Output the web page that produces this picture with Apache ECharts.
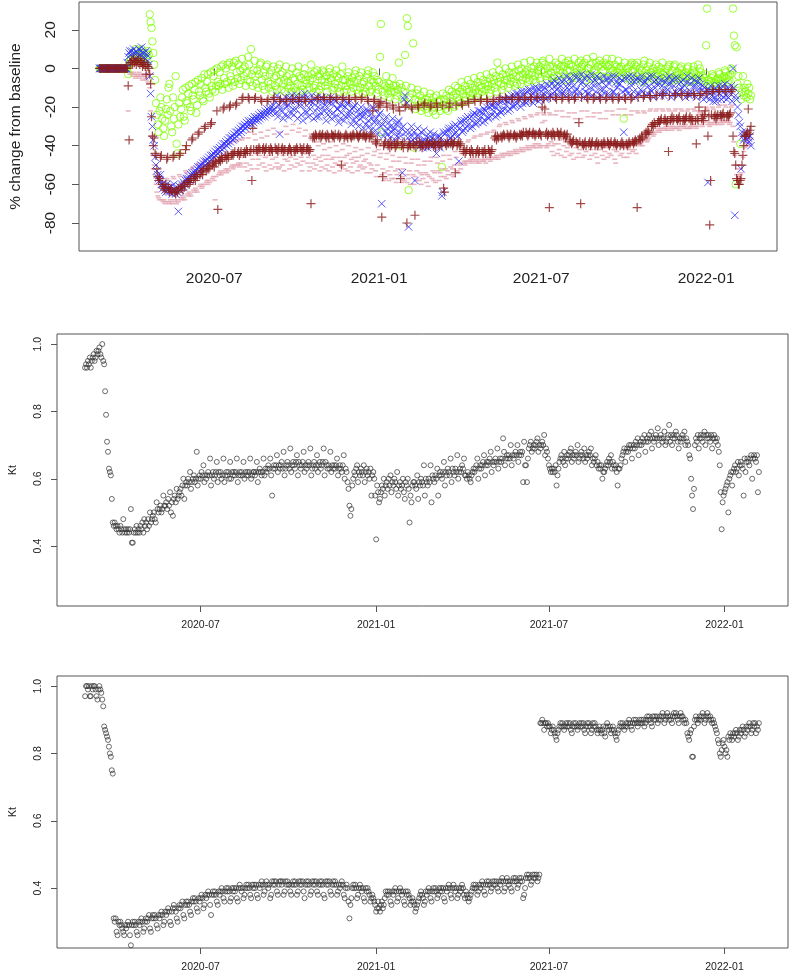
<!DOCTYPE html>
<html>
<head>
<meta charset="utf-8">
<title>Mobility change and Kt</title>
<script src="https://cdn.jsdelivr.net/npm/echarts@6/dist/echarts.min.js"></script>
<style>
html, body { margin: 0; padding: 0; background: #fff; }
#main { width: 789px; height: 974px; }
</style>
</head>
<body>
<div id="main"></div>
<script>
var DAY = 86400000;

// top panel: % change from baseline, one value per day from 2020-02-24, one row per week (Mon..Sun)
var mobStart = Date.UTC(2020, 1, 24);
var greenVals = [
  0,0,0,0,0,0,0, 0,0,0,0,0,0,0, 0,0,0,0,0,0,0, 0,0,0,0,0,0,0,
  0,0,0,0,-3,2,4, 5,3,8,6,4,10,7, 6,9,4,7,5,10,8, 3,6,2,8,5,9,7,
  28,24,21,14,8,2,-6, -18,-24,-29,-33,-22,-15,-20, -26,-31,-35,-27,-21,-16,-24, -10,-8,-22,-30,-33,-15,-26,
  -20,-4,-39,-44,-29,-18,-25, -21,-15,-11,-25,-27,-10,-17, -18,-13,-9,-20,-22,-8,-14, -16,-11,-7,-23,-19,-6,-12,
  -14,-8,-5,-16,-17,-3,-10, -12,-7,-3,-13,-15,-2,-9, -11,-4,-1,-12,-9,0,-7, -9,-2,-8,1,-11,2,-5,
  -8,0,-7,2,-10,3,-4, -6,1,-9,3,-7,4,-2, -5,2,-8,-1,-6,5,0, -4,1,-9,-2,-6,6,2,
  -7,10,-3,-9,-1,4,-4, -8,-1,-10,-3,2,3,-6, -9,-2,-11,-4,1,2,-7, -10,-3,-8,-1,-12,1,-5,
  -9,-4,-11,0,-7,2,-3, -11,-2,-8,-6,-12,1,-4, -7,-10,-3,-9,-12,0,-5, -10,-6,-12,-2,-8,1,-4,
  -12,-5,-9,-11,-3,0,-6, -8,-11,-4,-10,-6,2,-3, -5,-10,-2,-9,-12,-1,-4, -11,-3,-9,-6,-1,-2,-7,
  -9,-4,-12,-7,-2,0,-5, -6,-11,-3,-10,-8,-1,-4, -10,-5,-12,-3,-9,1,-6, -12,-6,-9,-11,-4,-2,-7,
  -8,-12,-5,-10,-7,-3,-1, -11,-6,-13,-4,-10,-2,-8, -13,-7,-10,-12,-5,-3,-1, -9,-12,-6,-11,-2,-7,-4,
  -9,-13,-6,-11,-7,6,23, -33,-12,-8,-14,-9,-4,-10, -13,-8,-15,-10,-12,-5,-9, -12,-16,-9,-14,-11,3,-8,
  -40,-10,-15,-12,-17,7,-9, 26,22,-63,-15,-19,-10,-13, 13,-41,-16,-21,-13,-11,-17, -19,-14,-22,-17,-20,-12,-16,
  -21,-16,-18,-23,-15,-13,-19, -18,-22,-15,-20,-24,-14,-17, -20,-17,-22,-16,-51,-13,-19, -16,-21,-14,-19,-22,-11,-15,
  -17,-12,-19,-14,-20,-9,-13, -15,-10,-17,-12,-18,-7,-11, -13,-17,-9,-15,-11,-6,-12, -14,-8,-16,-10,-13,-5,-9,
  -11,-15,-7,-13,-9,-4,-10, -12,-6,-14,-8,-11,-3,-7, -9,-13,-5,-11,-8,-2,-6, -10,-4,-12,3,-7,-1,-5,
  -8,-11,-3,-9,-6,0,-4, -6,-10,-2,-8,-5,1,-3, -7,-2,-9,-4,-8,2,-1, -4,-8,0,-6,-3,3,-2,
  -5,-1,-7,-3,-6,4,0, -2,-6,1,-4,-7,3,-1, -3,1,-5,-1,3,4,-2, 2,-4,-6,0,-3,5,1,
  -2,-5,1,-4,-7,3,0, -4,2,-6,-1,1,5,-2, 1,-3,3,-6,-1,4,2, -1,2,-5,1,-4,5,-2,
  -5,0,-3,3,-1,4,1, 2,-4,3,-2,-6,5,0, 0,-3,2,-5,3,6,-1, -2,3,-4,1,-6,4,2,
  -4,1,-1,3,-5,2,5, 1,-5,2,-2,0,5,-1, -3,2,-6,1,-2,4,0, -1,1,-4,-2,-26,3,-3,
  -5,0,-2,1,-6,2,3, -1,-4,2,-6,1,3,-2, -3,0,-5,-1,-7,2,4, -6,-1,-3,1,-4,3,-2,
  -2,-5,0,-6,-3,2,-1, -4,1,-6,-2,0,3,-3, -5,-2,-4,0,-7,1,2, -3,-6,-1,-5,1,2,-4,
  -6,-2,-5,-3,0,1,-1, -5,-3,-7,-2,-4,0,1, -4,-7,-3,-6,-1,1,-2, -5,-3,-6,2,-4,0,-2,
  -6,-4,-7,-5,-3,12,31, -8,-6,-9,-7,-5,-3,-4, -7,-9,-6,-8,-5,-2,-3, -6,-8,-5,-7,-4,-1,-2,
  -5,-7,-4,-6,-3,0,-1, 31,17,12,-60,11,-8,-4, -10,-39,-16,-12,-4,-14,-10, -12,-15,-8,-13,-10,-16,-14
];
var blueVals = [
  0,0,0,0,0,0,0, 0,0,0,0,0,0,0, 0,0,0,0,0,0,0, 0,0,0,0,0,0,0,
  0,0,0,3,6,8,9, 7,9,6,10,8,5,9, 8,6,10,7,9,11,8, 6,8,5,9,7,4,2,
  -4,-13,-25,-30,-37,-40,-46, -50,-53,-55,-57,-58,-55,-60, -60,-62,-61,-63,-64,-60,-62, -62,-64,-63,-61,-65,-63,-60,
  -63,-65,-62,-64,-74,-61,-63, -62,-60,-61,-59,-60,-58,-57, -58,-57,-56,-58,-55,-54,-56, -55,-54,-53,-55,-52,-51,-53,
  -51,-50,-52,-49,-51,-48,-50, -48,-47,-49,-46,-48,-45,-47, -45,-44,-46,-43,-45,-42,-44, -42,-41,-43,-40,-42,-39,-41,
  -39,-38,-40,-37,-39,-36,-38, -36,-35,-37,-34,-36,-33,-35, -33,-32,-34,-31,-33,-30,-32, -30,-29,-31,-28,-30,-27,-29,
  -28,-27,-29,-26,-28,-25,-27, -26,-25,-27,-24,-26,-23,-25, -24,-23,-25,-22,-24,-21,-23, -22,-21,-23,-20,-22,-19,-21,
  -17,-23,-14,-25,-19,-34,-21, -22,-16,-26,-18,-24,-15,-20, -19,-25,-15,-23,-17,-14,-21, -24,-17,-21,-14,-26,-16,-19,
  -16,-24,-19,-27,-15,-13,-22, -23,-15,-25,-18,-21,-17,-14, -18,-26,-16,-22,-25,-15,-20, -25,-17,-23,-15,-20,-16,-22,
  -19,-27,-17,-24,-22,-18,-15, -26,-18,-23,-16,-25,-17,-21, -21,-28,-19,-26,-23,-19,-16, -27,-20,-25,-18,-24,-18,-22,
  -24,-29,-21,-27,-20,-19,-25, -28,-22,-30,-24,-26,-20,-23, -25,-31,-23,-29,-21,-22,-27, -30,-24,-32,-26,-20,-21,-28,
  -32,-26,-34,-28,-24,-23,-30, -70,-29,-35,-27,-33,-25,-31, -34,-28,-36,-30,-33,-26,-32, -31,-37,-29,-35,-28,-27,-33,
  -35,-31,-54,-30,-16,-14,-33, -18,-36,-82,-33,-38,-30,-35, -37,-33,-58,-39,-35,-31,-38, -35,-40,-33,-38,-41,-32,-37,
  -39,-35,-41,-36,-38,-33,-40, -36,-40,-34,-39,-37,-44,-35, -39,-35,-41,-36,-66,-64,-33, -34,-39,-33,-38,-32,-31,-36,
  -36,-31,-35,-30,-34,-29,-33, -30,-35,-48,-31,-28,-27,-33, -32,-27,-31,-26,-30,-25,-29, -26,-31,-25,-30,-24,-23,-28,
  -29,-24,-28,-22,-27,-22,-25, -23,-28,-21,-27,-22,-20,-25, -26,-20,-25,-19,-24,-19,-22, -20,-25,-18,-24,-19,-17,-22,
  -23,-17,-22,-16,-21,-16,-19, -17,-22,-15,-21,-16,-14,-19, -20,-14,-19,-13,-18,-13,-16, -15,-20,-12,-18,-14,-12,-17,
  -18,-12,-17,-11,-16,-11,-14, -13,-18,-10,-16,-12,-10,-15, -17,-11,-16,-9,-14,-11,-13, -10,-16,-8,-15,-12,-9,-14,
  -15,-8,-13,-6,-12,-9,-11, -8,-14,-5,-12,-9,-7,-13, -12,-6,-14,-4,-10,-8,-11, -5,-13,-7,-15,-9,-4,-12,
  -11,-4,-14,-6,-12,-8,-3, -7,-15,-5,-12,-9,-4,-13, -13,-5,-10,-3,-14,-7,-9, -6,-12,-4,-15,-8,-5,-11,
  -14,-7,-11,-4,-13,-9,-6, -5,-13,-8,-15,-6,-4,-12, -12,-4,-14,-7,-10,-8,-5, -8,-15,-6,-12,-33,-5,-11,
  -11,-5,-13,-4,-14,-7,-9, -4,-12,-7,-15,-6,-5,-13, -13,-6,-11,-4,-12,-8,-7, -7,-14,-5,-13,-9,-4,-11,
  -12,-4,-15,-7,-10,-6,-8, -5,-13,-8,-14,-6,-9,-12, -14,-7,-12,-5,-11,-8,-4, -8,-15,-6,-13,-9,-5,-12,
  -13,-5,-14,-8,-11,-7,-10, -6,-12,-9,-15,-7,-4,-13, -14,-8,-12,-5,-13,-9,-6, -9,-15,-7,-12,-5,-10,-8,
  -14,-9,-16,-10,-12,-15,-11, -59,-11,-16,-9,-14,-12,-17, -15,-10,-17,-12,-16,-9,-13, -11,-16,-9,-15,-12,-8,-14,
  -16,-10,-15,-11,-13,-9,-17, 0,-10,-76,-14,-16,-20,-24, -28,-30,-52,-33,-35,-37,-36, -34,-33,-37,-36,-38,-35,-40
];
var redVals = [
  0,0,0,0,0,0,0, 0,0,0,0,0,0,0, 0,0,0,0,0,0,0, 0,0,0,0,0,0,0,
  0,0,0,0,-9,-37,3, 3,4,2,5,3,4,2, 4,3,5,2,4,3,1, 2,3,1,-3,2,1,0,
  -3,-8,-25,-35,-40,-36,-44, -45,-52,-56,-58,-57,-46,-45, -60,-62,-61,-63,-60,-47,-46, -62,-64,-63,-62,-64,-46,-45,
  -64,-65,-63,-64,-62,-45,-44, -62,-61,-63,-60,-61,-42,-40, -59,-58,-60,-59,-57,-37,-36, -57,-56,-58,-55,-56,-34,-33,
  -55,-54,-53,-55,-52,-31,-30, -53,-52,-51,-52,-50,-29,-28, -50,-49,-51,-48,-49,-22,-73, -48,-47,-48,-46,-47,-21,-20,
  -46,-45,-47,-45,-46,-20,-19, -45,-44,-45,-44,-43,-19,-18, -44,-43,-45,-44,-43,-16,-15, -44,-43,-44,-42,-43,-15,-16,
  -43,-42,-58,-31,-42,-16,-15, -42,-43,-42,-41,-42,-16,-17, -42,-41,-43,-42,-41,-17,-16, -42,-43,-41,-42,-43,-16,-15,
  -41,-42,-42,-43,-41,-17,-16, -42,-41,-43,-42,-42,-16,-17, -43,-42,-41,-42,-43,-16,-16, -42,-43,-42,-41,-42,-17,-15,
  -41,-42,-43,-42,-41,-16,-17, -42,-41,-42,-43,-42,-70,-16, -36,-35,-36,-34,-35,-16,-15, -35,-34,-36,-35,-34,-15,-16,
  -35,-36,-34,-35,-36,-16,-15, -34,-35,-35,-36,-34,-15,-16, -35,-34,-36,-35,-50,-16,-15, -36,-35,-34,-35,-36,-16,-16,
  -35,-36,-35,-34,-35,-15,-16, -34,-35,-36,-35,-34,-16,-15, -35,-34,-35,-36,-35,-16,-17, -36,-35,-34,-35,-22,-17,-16,
  -38,-39,-37,-20,-18,-19,-17, -77,-56,-40,-39,-38,-18,-20, -40,-39,-41,-38,-40,-19,-21, -39,-41,-40,-39,-38,-20,-22,
  -57,-40,-39,-41,-38,-20,-19, -80,-41,-40,-39,-40,-20,-21, -39,-40,-76,-41,-38,-19,-20, -38,-40,-39,-41,-40,-19,-18,
  -40,-39,-38,-40,-39,-20,-19, -39,-38,-40,-39,-41,-18,-20, -38,-40,-39,-38,-40,-19,-62, -64,-39,-40,-38,-39,-20,-18,
  -39,-38,-40,-39,-38,-54,-19, -40,-39,-38,-40,-39,-18,-19, -43,-42,-44,-43,-42,-17,-18, -43,-44,-42,-43,-44,-16,-17,
  -44,-43,-42,-44,-43,-17,-16, -43,-44,-43,-42,-44,-16,-17, -42,-43,-44,-43,-42,-17,-16, -36,-35,-37,-35,-36,-16,-15,
  -35,-36,-35,-34,-35,-15,-16, -34,-35,-36,-35,-34,-16,-15, -35,-34,-35,-36,-35,-15,-16, -34,-35,-34,-35,-33,-16,-15,
  -33,-34,-35,-34,-33,-15,-16, -34,-33,-34,-35,-34,-15,-15, -34,-33,-34,-35,-20,-15,-16, -21,-34,-33,-35,-34,-72,-15,
  -34,-35,-33,-34,-35,-15,-16, -33,-34,-35,-34,-33,-16,-15, -35,-34,-36,-35,-34,-15,-16, -37,-38,-39,-38,-37,-16,-15,
  -38,-39,-39,-28,-38,-70,-15, -39,-40,-39,-38,-40,-15,-16, -39,-38,-40,-39,-38,-16,-15, -40,-39,-38,-40,-39,-15,-16,
  -39,-40,-39,-38,-39,-16,-15, -38,-39,-40,-39,-38,-15,-16, -39,-38,-39,-40,-39,-16,-15, -40,-39,-38,-39,-40,-15,-16,
  -39,-40,-39,-38,-39,-16,-15, -38,-39,-38,-37,-38,-72,-15, -37,-36,-37,-35,-36,-15,-14, -34,-33,-34,-32,-33,-14,-15,
  -30,-29,-30,-28,-29,-14,-14, -28,-27,-28,-27,-26,-14,-13, -27,-26,-27,-28,-27,-43,-14, -27,-26,-25,-27,-26,-14,-13,
  -26,-27,-26,-25,-27,-13,-14, -27,-26,-27,-26,-25,-14,-13, -26,-25,-27,-26,-27,-13,-14, -27,-39,-26,-27,-20,-14,-13,
  -26,-25,-27,-24,-22,-12,-13, -35,-25,-81,-58,-24,-12,-11, -25,-24,-26,-25,-24,-12,-11, -24,-25,-24,-23,-25,-11,-12,
  -25,-24,-25,-24,-23,-12,-11, -35,-43,-44,-50,-57,-58,-60, -60,-58,-57,-50,-45,-40,-35, -35,-34,-33,-21,-34,-32,-30
];
var pinkVals = [
  0,0,0,0,0,0,0, 0,0,0,0,0,0,0, 0,0,0,0,0,0,0, 0,0,0,0,0,0,0,
  0,0,0,0,-22,-2,-3, -2,-3,-4,-2,-3,-5,-4, -3,-4,-2,-5,-3,-4,-6, -4,-3,-5,-6,-4,-7,-8,
  -10,-22,-35,-45,-52,-50,-55, -60,-64,-66,-67,-68,-58,-56, -68,-69,-68,-70,-69,-57,-58, -69,-70,-68,-69,-70,-56,-57,
  -68,-69,-70,-68,-69,-55,-56, -67,-68,-66,-67,-68,-53,-54, -65,-66,-64,-65,-66,-52,-51, -63,-64,-62,-63,-64,-50,-49,
  -61,-60,-62,-61,-60,-48,-47, -59,-58,-60,-58,-59,-46,-45, -57,-56,-58,-68,-56,-44,-43, -55,-54,-53,-55,-54,-41,-40,
  -53,-52,-54,-52,-53,-39,-38, -51,-50,-52,-51,-50,-38,-37, -50,-49,-51,-50,-49,-37,-36, -46,-51,-44,-49,-53,-36,-33,
  -50,-45,-52,-47,-43,-34,-37, -44,-52,-47,-50,-45,-33,-36, -49,-43,-51,-46,-53,-35,-32, -45,-50,-43,-52,-47,-31,-34,
  -51,-46,-49,-44,-52,-51,-33, -43,-50,-45,-53,-47,-30,-34, -48,-44,-52,-46,-50,-32,-29, -45,-51,-47,-43,-49,-33,-31,
  -50,-46,-53,-48,-44,-35,-32, -44,-49,-46,-53,-51,-34,-37, -49,-45,-52,-47,-50,-38,-40, -46,-53,-48,-51,-45,-39,-42,
  -52,-47,-50,-45,-53,-41,-38, -47,-51,-46,-54,-49,-40,-43, -50,-46,-53,-48,-51,-42,-39, -46,-52,-49,-45,-53,-40,-44,
  -51,-47,-54,-49,-46,-43,-41, -48,-53,-46,-51,-50,-42,-45, -52,-48,-51,-47,-54,-44,-41, -49,-54,-50,-52,-38,-45,-43,
  -53,-56,-50,-42,-40,-46,-44, -55,-52,-58,-54,-57,-47,-44, -53,-58,-55,-51,-57,-45,-48, -57,-53,-59,-55,-52,-48,-46,
  -54,-59,-56,-52,-58,-46,-49, -59,-55,-57,-53,-60,-49,-47, -55,-60,-56,-58,-53,-47,-50, -58,-54,-60,-55,-57,-50,-48,
  -54,-59,-55,-61,-56,-48,-46, -57,-53,-58,-54,-59,-46,-49, -53,-58,-54,-56,-52,-48,-45, -56,-52,-57,-53,-55,-45,-47,
  -51,-55,-52,-56,-50,-43,-46, -53,-49,-54,-50,-52,-44,-41, -49,-48,-50,-49,-48,-38,-37, -48,-47,-49,-48,-47,-36,-35,
  -48,-49,-47,-48,-49,-35,-34, -47,-48,-48,-47,-49,-34,-33, -47,-46,-48,-47,-46,-33,-32, -46,-47,-45,-46,-47,-30,-29,
  -45,-44,-46,-45,-44,-28,-29, -44,-45,-43,-44,-45,-27,-28, -43,-44,-42,-43,-44,-26,-27, -42,-43,-41,-42,-43,-25,-26,
  -41,-42,-40,-41,-42,-24,-25, -40,-41,-40,-39,-41,-24,-23, -39,-40,-41,-40,-28,-23,-24, -27,-40,-41,-40,-39,-23,-24,
  -38,-43,-40,-45,-39,-24,-22, -44,-39,-42,-37,-45,-22,-25, -40,-46,-38,-43,-41,-25,-23, -45,-40,-44,-39,-47,-23,-26,
  -41,-46,-39,-44,-42,-26,-22, -46,-41,-45,-40,-43,-22,-25, -40,-47,-42,-45,-39,-25,-23, -44,-40,-46,-49,-42,-23,-26,
  -39,-45,-41,-47,-43,-26,-22, -46,-41,-44,-39,-45,-22,-24, -42,-47,-49,-43,-40,-24,-21, -45,-40,-44,-41,-46,-21,-24,
  -41,-46,-40,-44,-42,-24,-22, -43,-39,-42,-40,-44,-22,-23, -39,-40,-39,-38,-40,-22,-23, -37,-36,-38,-37,-36,-22,-21,
  -34,-33,-35,-34,-33,-22,-21, -32,-31,-33,-32,-31,-21,-22, -31,-32,-30,-31,-32,-21,-22, -30,-31,-32,-30,-31,-22,-21,
  -31,-30,-31,-32,-30,-21,-22, -30,-31,-30,-29,-31,-22,-21, -31,-30,-31,-30,-29,-21,-22, -30,-31,-30,-24,-22,-23,-22,
  -29,-30,-28,-27,-24,-20,-21, -29,-28,-30,-29,-28,-20,-21, -28,-29,-27,-28,-29,-20,-19, -28,-27,-29,-28,-27,-19,-20,
  -27,-28,-27,-29,-28,-20,-19, -30,-38,-45,-50,-55,-52,-56, -57,-55,-54,-50,-46,-43,-41, -40,-39,-38,-40,-39,-37,-36
];
var pctTicks = [-80, -60, -40, -20, 0, 20];

// Kt panels: Kt x 100, one value per day from 2020-03-02, one row per week (Mon..Sun)
var ktStart = Date.UTC(2020, 2, 2);
var kt1Vals = [
  93,94,93,95,94,96,93, 95,96,97,95,96,98,97, 98,99,97,96,100,95,94, 86,79,71,68,63,62,61,
  54,47,46,47,46,45,46, 45,44,46,45,44,48,45, 44,45,44,45,44,45,51, 41,41,44,45,44,46,44,
  45,44,46,45,47,44,48, 46,47,45,48,46,50,47, 48,49,50,48,47,53,51, 50,51,52,50,51,55,52,
  52,53,51,54,52,56,50, 53,49,54,55,53,57,54, 55,56,57,55,58,60,54, 58,59,58,60,59,62,57,
  59,60,61,59,60,68,58, 60,61,60,62,61,64,59, 61,60,61,62,61,66,58, 61,62,60,61,62,65,59,
  62,61,62,60,61,66,59, 61,62,61,62,60,65,60, 62,61,62,61,62,66,59, 61,62,61,62,61,65,60,
  62,61,62,61,62,66,60, 61,62,62,61,62,65,59, 62,63,62,61,62,66,61, 63,62,63,64,63,66,61,
  55,63,64,63,64,67,62, 64,63,64,65,63,68,61, 63,64,65,64,63,69,62, 64,65,64,63,65,67,61,
  65,64,63,64,65,68,62, 64,63,64,65,64,69,61, 63,64,65,63,64,67,62, 64,65,63,64,65,69,61,
  65,64,63,64,63,68,62, 64,63,64,63,64,66,61, 63,64,63,62,64,67,60, 63,62,59,57,52,49,51,
  58,60,62,61,63,64,59, 62,61,63,62,61,64,59, 62,63,61,62,60,63,55, 61,62,60,55,42,58,56,
  53,54,56,58,57,60,55, 58,59,57,60,58,61,56, 59,58,60,59,57,62,55, 58,59,57,58,60,56,54,
  59,58,60,57,47,55,53, 58,59,59,58,57,61,54, 59,58,60,59,58,64,55, 60,59,58,60,59,64,53,
  61,60,59,61,60,63,55, 61,62,61,60,62,65,58, 62,61,63,62,61,66,59, 63,62,61,63,62,67,60,
  62,63,62,64,63,66,61, 61,60,62,61,60,59,61, 62,63,62,63,64,66,60, 63,64,63,64,65,67,61,
  64,65,64,65,66,68,62, 65,64,65,66,65,69,63, 65,66,65,66,72,68,64, 66,67,66,67,66,70,64,
  67,66,67,68,67,70,65, 67,68,67,68,59,71,64, 64,59,66,69,70,71,68, 69,70,69,70,71,72,68,
  70,69,70,71,70,73,67, 69,68,66,64,63,62,63, 62,63,62,64,58,61,63, 65,66,67,66,65,68,64,
  66,67,66,67,68,69,65, 67,66,67,68,67,70,65, 66,67,68,67,66,69,65, 67,66,67,68,67,69,64,
  66,65,66,67,64,65,63, 64,63,64,60,62,62,63, 64,65,64,66,65,67,63, 65,64,63,64,62,58,63,
  63,64,66,67,68,69,65, 68,69,68,70,69,70,66, 69,70,69,71,70,72,67, 70,71,70,72,71,73,68,
  71,72,71,73,72,74,69, 72,71,72,73,72,75,70, 72,73,72,71,72,74,70, 71,72,73,76,71,73,70,
  72,73,72,74,73,71,69, 72,71,72,73,72,74,70, 72,71,70,67,66,60,55, 51,57,70,72,71,73,69,
  72,73,72,71,73,74,70, 73,72,73,72,71,73,69, 72,73,72,71,72,70,68, 64,56,45,53,55,56,57,
  58,59,50,60,61,62,58, 62,63,64,62,63,65,61, 64,65,64,63,55,66,62, 65,66,65,64,66,67,60,
  66,67,66,65,67,56,62
];
var kt2Vals = [
  97,100,100,99,100,97,97, 100,99,100,100,99,97,96, 99,100,99,98,96,94,88, 87,86,85,84,82,80,79,
  75,74,31,30,31,27,26, 30,29,30,29,28,27,26, 29,28,29,30,29,26,23, 29,30,29,30,29,27,26,
  30,29,30,31,30,27,28, 30,31,30,31,32,28,27, 31,32,31,32,31,29,28, 32,31,32,33,32,29,30,
  33,32,33,34,33,30,29, 33,34,35,34,33,31,30, 34,35,34,35,36,32,31, 35,36,35,36,35,33,32,
  36,37,36,37,36,34,33, 37,36,37,38,37,34,35, 38,37,38,39,38,35,32, 38,39,38,39,38,36,35,
  39,38,39,40,39,37,36, 39,40,39,40,39,36,37, 40,39,40,39,40,37,36, 40,41,40,39,40,37,38,
  40,41,40,41,40,38,37, 41,40,41,40,41,38,37, 41,40,41,42,41,38,39, 41,42,41,40,41,37,38,
  42,41,42,41,42,39,38, 41,42,42,41,42,38,39, 42,41,42,41,41,39,38, 41,42,41,42,41,38,39,
  42,41,42,41,42,39,37, 41,42,41,42,41,38,39, 42,41,42,41,42,39,38, 41,42,41,42,41,38,37,
  42,41,42,41,42,39,38, 41,42,41,42,41,38,39, 41,40,41,42,41,38,37, 40,41,40,36,31,35,37,
  40,41,40,41,40,37,38, 40,41,40,39,40,37,36, 40,39,40,39,38,36,37, 38,37,36,35,33,34,36,
  34,33,35,36,34,35,37, 39,38,39,38,39,36,35, 39,38,39,40,39,36,37, 39,40,39,38,39,36,35,
  39,38,39,38,37,35,36, 37,36,35,33,34,35,36, 37,38,39,38,37,35,36, 39,38,39,40,39,37,36,
  39,40,39,40,39,37,38, 40,39,40,39,40,37,36, 40,39,40,41,40,38,37, 40,41,40,39,40,37,38,
  40,39,40,41,40,38,37, 39,38,37,36,37,38,39, 40,41,40,41,40,38,39, 41,40,41,42,41,39,38,
  41,42,41,42,41,39,40, 42,41,42,41,42,40,39, 42,41,42,43,42,39,40, 42,43,42,41,42,40,39,
  42,43,42,43,42,40,41, 43,42,43,42,37,38,40, 43,44,43,44,43,41,42, 44,43,44,43,44,42,43,
  44,89,89,90,89,87,89, 89,88,89,88,88,86,87, 88,87,86,85,84,86,87, 88,89,88,89,88,87,88,
  89,88,89,88,89,87,86, 88,89,88,89,88,87,88, 89,88,89,88,89,87,86, 88,89,88,89,88,86,87,
  89,88,89,88,87,86,87, 88,87,86,87,88,86,85, 88,89,88,87,88,86,87, 88,87,86,85,84,86,87,
  88,89,88,89,88,87,88, 89,88,89,90,89,88,87, 89,90,89,90,89,88,89, 90,89,90,89,90,88,89,
  90,91,90,91,90,89,88, 91,90,91,90,91,89,90, 91,90,91,92,91,89,90, 91,92,91,90,91,90,89,
  91,92,91,92,91,90,89, 91,92,91,91,90,89,90, 89,86,85,84,86,87,79, 79,88,90,91,90,89,90,
  91,90,91,92,91,89,90, 91,92,91,90,91,90,89, 90,89,88,87,86,84,83, 80,79,81,83,84,82,80,
  81,79,85,84,86,85,84, 86,85,86,87,86,84,85, 87,86,87,88,87,85,86, 88,87,88,89,88,86,87,
  89,88,89,86,88,87,89
];
var ktTicks = [0.4, 0.6, 0.8, 1.0];
var dateTicks = [Date.UTC(2020, 6, 1), Date.UTC(2021, 0, 1), Date.UTC(2021, 6, 1), Date.UTC(2022, 0, 1)];

function daily(start, vals, scale) {
  return vals.map(function (v, i) { return [start + i * DAY, v / (scale || 1)]; });
}
function ym(v) {
  var d = new Date(v);
  var m = d.getUTCMonth() + 1;
  return d.getUTCFullYear() + '-' + (m < 10 ? '0' : '') + m;
}

var FONT = '"Liberation Sans", Arial, sans-serif';
var TXT = '#222';
var FRAME = '#555';

function xAxis(gi, min, max, fs, margin, tick) {
  return {
    type: 'value', gridIndex: gi, min: min, max: max,
    axisLine: { show: false }, splitLine: { show: false },
    axisTick: { show: true, length: tick, customValues: dateTicks, lineStyle: { color: FRAME } },
    axisLabel: { customValues: dateTicks, formatter: ym, fontSize: fs, color: TXT, margin: margin, fontFamily: FONT }
  };
}
function yAxis(gi, min, max, ticks, fs, margin, tick, name, gap, fmt) {
  return {
    type: 'value', gridIndex: gi, min: min, max: max,
    name: name, nameLocation: 'middle', nameGap: gap, nameRotate: 90,
    nameTextStyle: { fontSize: fs, color: TXT, fontFamily: FONT },
    axisLine: { show: false }, splitLine: { show: false },
    axisTick: { show: true, length: tick, customValues: ticks, lineStyle: { color: FRAME } },
    axisLabel: { customValues: ticks, rotate: 90, formatter: fmt, fontSize: fs, color: TXT, margin: margin, fontFamily: FONT }
  };
}
function scat(gi, data, symbol, size, style) {
  return {
    type: 'scatter', xAxisIndex: gi, yAxisIndex: gi, data: data,
    symbol: symbol, symbolSize: size, itemStyle: style,
    silent: true, progressive: 0, animation: false
  };
}

var gridBox = { show: true, borderColor: FRAME, borderWidth: 1, backgroundColor: 'transparent' };

var chart = echarts.init(document.getElementById('main'), null, { renderer: 'canvas' });
chart.setOption({
  animation: false,
  grid: [
    Object.assign({ left: 75, top: 2, width: 702, height: 249 }, gridBox),
    Object.assign({ left: 51, top: 334, width: 737, height: 272 }, gridBox),
    Object.assign({ left: 51, top: 676, width: 737, height: 272 }, gridBox)
  ],
  xAxis: [
    xAxis(0, Date.UTC(2020, 1, 1, 2), Date.UTC(2022, 2, 21, 2), 15.5, 20, 7),
    xAxis(1, Date.UTC(2020, 1, 1, 14), Date.UTC(2022, 2, 8, 12), 10.5, 14, 6),
    xAxis(2, Date.UTC(2020, 1, 1, 14), Date.UTC(2022, 2, 8, 12), 10.5, 14, 6)
  ],
  yAxis: [
    yAxis(0, -94.5, 34.4, pctTicks, 15.5, 20, 7, '% change from baseline', 55, function (v) { return String(v); }),
    yAxis(1, 0.222, 1.03, ktTicks, 10.5, 13, 6, 'Kt', 38, function (v) { return v.toFixed(1); }),
    yAxis(2, 0.222, 1.03, ktTicks, 10.5, 13, 6, 'Kt', 38, function (v) { return v.toFixed(1); })
  ],
  series: [
    scat(0, daily(mobStart, pinkVals), 'rect', [5, 1.6], { color: '#e2a4b2' }),
    scat(0, daily(mobStart, greenVals), 'circle', 7.5, { color: 'rgba(0,0,0,0)', borderColor: '#7fff00', borderWidth: 1 }),
    scat(0, daily(mobStart, blueVals), 'path://M0,0L10,10M10,0L0,10', 7.5, { color: 'none', borderColor: '#2e2eff', borderWidth: 1 }),
    scat(0, daily(mobStart, redVals), 'path://M5,0L5,10M0,5L10,5', 9, { color: 'none', borderColor: '#8b1a1a', borderWidth: 1.2 }),
    scat(1, daily(ktStart, kt1Vals, 100), 'circle', 5, { color: 'rgba(0,0,0,0)', borderColor: '#333', borderWidth: 0.9 }),
    scat(2, daily(ktStart, kt2Vals, 100), 'circle', 5, { color: 'rgba(0,0,0,0)', borderColor: '#333', borderWidth: 0.9 })
  ]
});
</script>
</body>
</html>
